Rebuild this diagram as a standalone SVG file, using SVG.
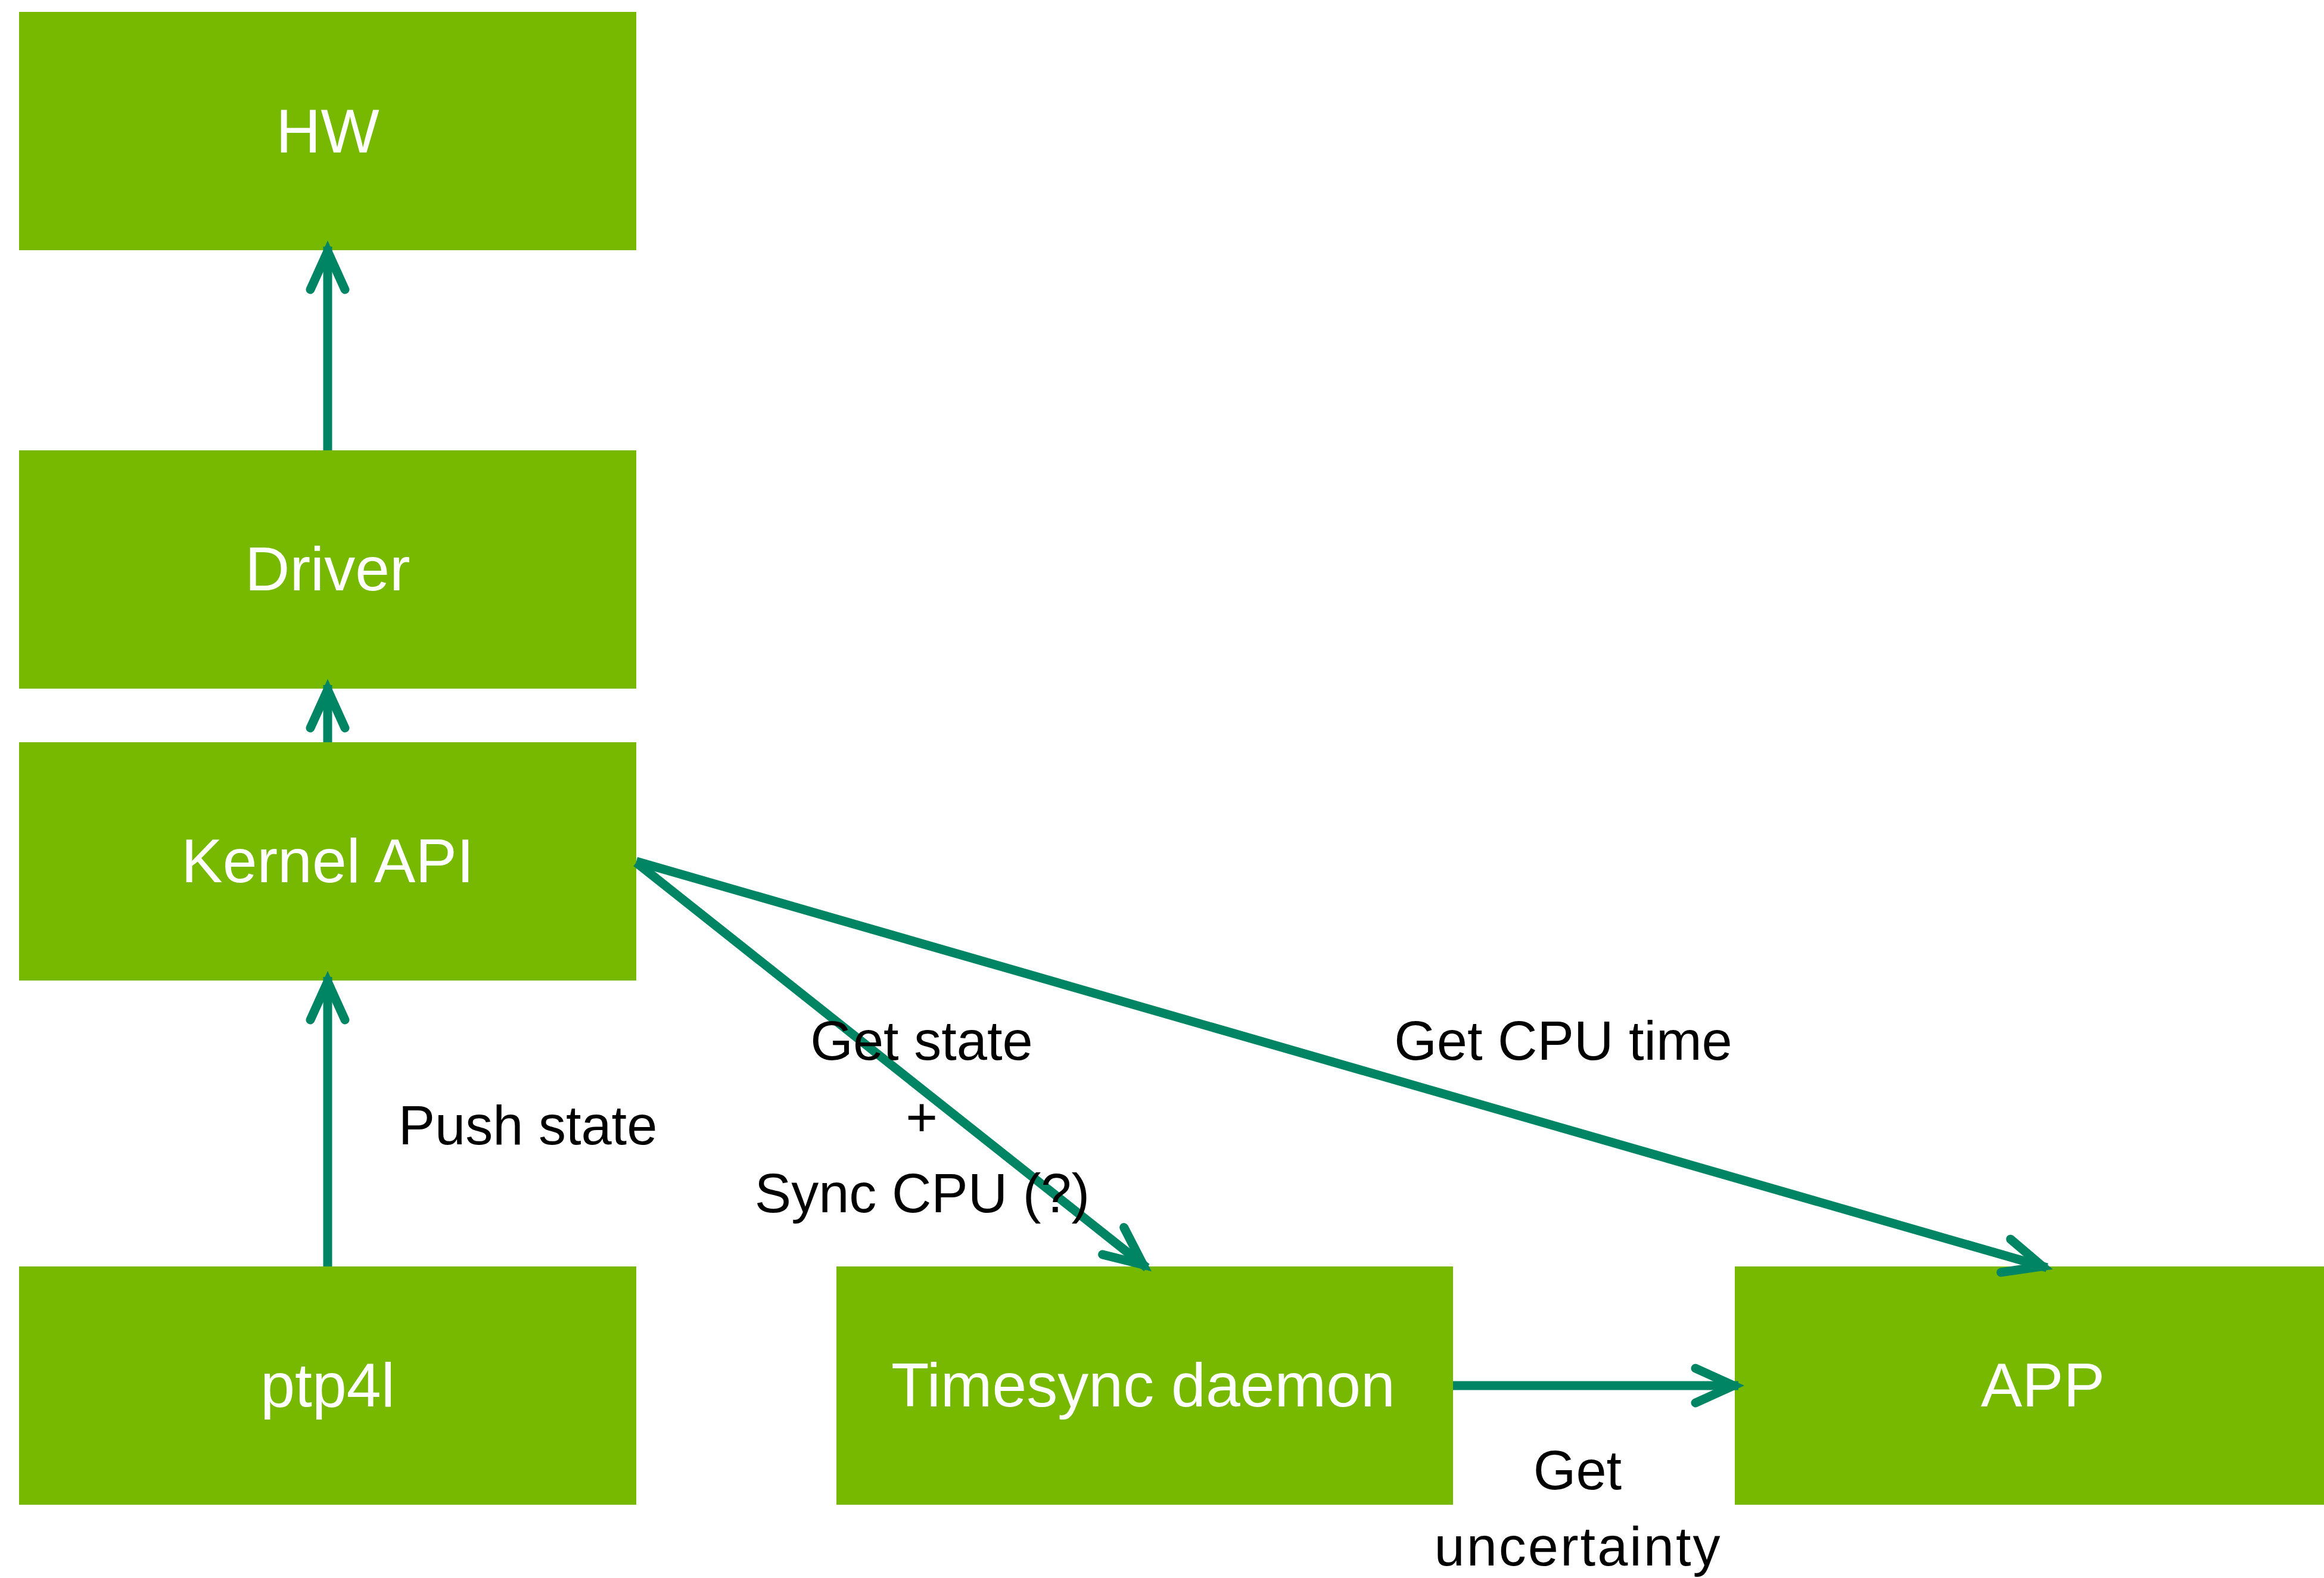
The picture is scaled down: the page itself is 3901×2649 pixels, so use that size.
<svg xmlns="http://www.w3.org/2000/svg" width="3901" height="2649" viewBox="0 0 3901 2649">
<style>
.box{fill:#76b900}
.nl{font-family:"Liberation Sans",Arial,sans-serif;font-size:104px;fill:#ffffff;text-anchor:middle}
.el{font-family:"Liberation Sans",Arial,sans-serif;font-size:92px;fill:#000000;text-anchor:middle}
.c{stroke:#008564;stroke-width:15;fill:none}
</style>
<defs>
<marker id="ah" markerUnits="userSpaceOnUse" viewBox="-90 -40 100 80" refX="0" refY="0" markerWidth="100" markerHeight="80" orient="auto">
<path d="M-72,-29 L-8,0 L-72,29" fill="none" stroke="#008564" stroke-width="15" stroke-linecap="round" stroke-linejoin="miter"/>
</marker>
</defs>
<rect width="3901" height="2649" fill="#ffffff"/>
<g id="hw"><rect class="box" x="32" y="20" width="1036" height="400"/><text class="nl" x="550" y="256">HW</text></g>
<g id="driver"><rect class="box" x="32" y="756" width="1036" height="400"/><text class="nl" x="550" y="991">Driver</text></g>
<g id="kernel"><rect class="box" x="32" y="1246" width="1036" height="400"/><text class="nl" x="550" y="1481">Kernel API</text></g>
<g id="ptp4l"><rect class="box" x="32" y="2126" width="1036" height="400"/><text class="nl" x="550" y="2361">ptp4l</text></g>
<g id="timesync"><rect class="box" x="1404" y="2126" width="1035" height="400"/><text class="nl" x="1919" y="2361">Timesync daemon</text></g>
<g id="app"><rect class="box" x="2912" y="2126" width="989" height="400"/><text class="nl" x="3429" y="2361">APP</text></g>
<g id="connectors">
<line class="c" x1="550" y1="756" x2="550" y2="414" marker-end="url(#ah)"/>
<line class="c" x1="550" y1="1246" x2="550" y2="1150" marker-end="url(#ah)"/>
<line class="c" x1="550" y1="2126" x2="550" y2="1640" marker-end="url(#ah)"/>
<line class="c" x1="1068" y1="1448" x2="1925" y2="2128" marker-end="url(#ah)"/>
<line class="c" x1="1068" y1="1446" x2="3436" y2="2128" marker-end="url(#ah)"/>
<line class="c" x1="2439" y1="2326" x2="2918" y2="2326" marker-end="url(#ah)"/>
<text class="el" x="886" y="1921">Push state</text>
<text class="el" x="1547" y="1779">Get state</text>
<text class="el" x="1547" y="1907">+</text>
<text class="el" x="1548" y="2035">Sync CPU (?)</text>
<text class="el" x="2624" y="1779">Get CPU time</text>
<text class="el" x="2648" y="2500">Get</text>
<text class="el" x="2649" y="2628" style="letter-spacing:3px">uncertainty</text>
</g>
</svg>
